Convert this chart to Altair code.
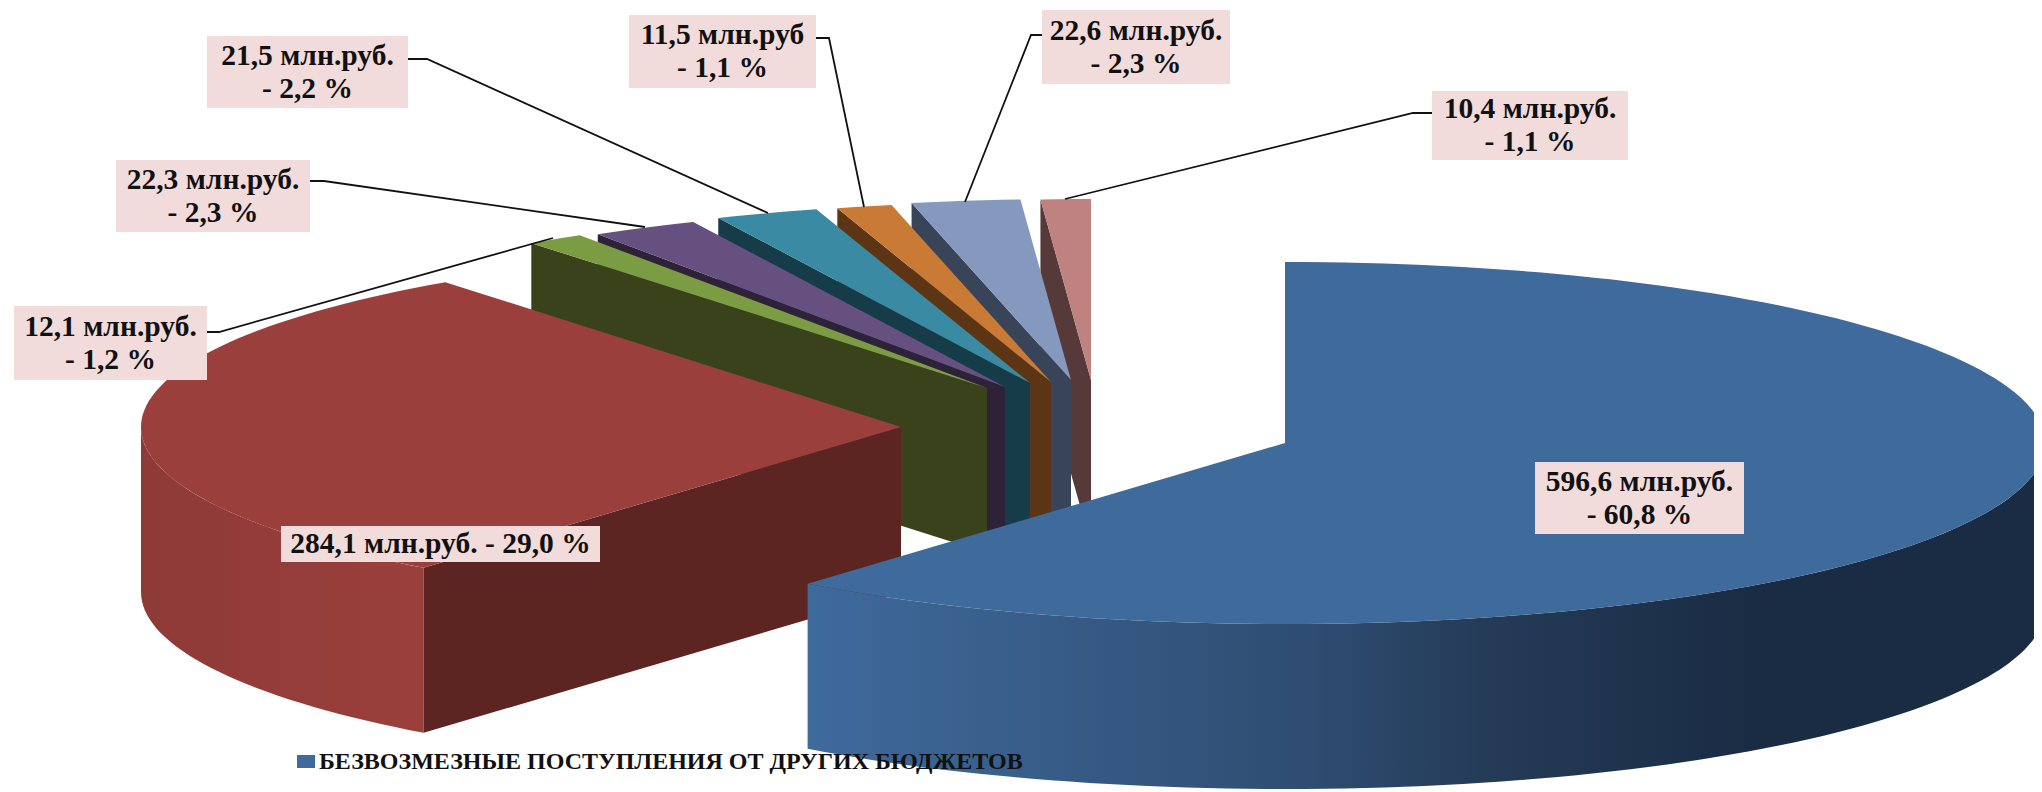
import math
import altair as alt
import pandas as pd

# ---- data (clockwise from 12 o'clock) ----
slice_names = ["blue", "red", "green", "purple", "teal", "orange", "steel", "pink"]
slice_values = [596.6, 284.1, 12.1, 22.3, 21.5, 11.5, 22.6, 10.4]
label_texts = [
    "596,6 млн.руб.\n- 60,8 %",
    "284,1 млн.руб. - 29,0 %",
    "12,1 млн.руб.\n- 1,2 %",
    "22,3 млн.руб.\n- 2,3 %",
    "21,5  млн.руб.\n- 2,2 %",
    "11,5 млн.руб\n- 1,1 %",
    "22,6 млн.руб.\n- 2,3 %",
    "10,4 млн.руб.\n- 1,1 %",
]
legend_text = "БЕЗВОЗМЕЗНЫЕ ПОСТУПЛЕНИЯ ОТ ДРУГИХ БЮДЖЕТОВ"

# ---- styles ----
top_colors = ["#3f6a9c", "#9a3f3c", "#7c9c44", "#65507f", "#3b8aa3", "#c97a35", "#8499bd", "#c08280"]
face_colors = ["#3f6a9c", "#5c2522", "#3a421c", "#2d2238", "#173c49", "#5b3514", "#3a4459", "#563a3a"]
BOX = "#f2dcdb"
FONT = "Liberation Serif"
LINE_H = 33

# ---- layout, in the picture's pixels ----
apex_x = [1285, 901, 987, 1005, 1030, 1051, 1071, 1091]
apex_y = [443, 427, 388, 387, 383, 382, 380, 380]
RX, RY, DEPTH = 760, 181, 165
box_left = [1535, 281, 14, 116, 207, 629, 1042, 1432]
box_right = [1744, 600, 207, 310, 408, 816, 1230, 1628]
box_top = [462, 526, 306, 160, 36, 15, 10, 91]
box_bottom = [534, 562, 380, 232, 108, 88, 84, 160]
leader_x = [None, None, [207, 219, 553], [310, 324, 645], [408, 427, 768], [816, 829, 864], [1042, 1031, 965], [1432, 1413, 1065]]
leader_y = [None, None, [332, 332, 238], [181, 181, 227], [59, 59, 213], [38, 38, 207], [35, 35, 202], [113, 113, 199]]

X = alt.X("x:Q", scale=alt.Scale(domain=[8, 2034]), axis=None)
Y = alt.Y("y:Q", scale=alt.Scale(domain=[792, 8]), axis=None)
X2 = alt.X2("x2:Q")
Y2 = alt.Y2("y2:Q")


def pt(i, t):
    r = math.radians(t)
    return apex_x[i] + RX * math.sin(r), apex_y[i] - RY * math.cos(r)


def arc(i, a, b):
    n = max(2, int(abs(b - a) / 1.5) + 1)
    return [pt(i, a + (b - a) * k / n) for k in range(n + 1)]


def poly(points, fill):
    df = pd.DataFrame({"x": [p[0] for p in points], "y": [p[1] for p in points], "ord": range(len(points))})
    return alt.Chart(df).mark_line(
        fill=fill, strokeOpacity=0, strokeWidth=0, clip=True
    ).encode(x=X, y=Y, order=alt.Order("ord:Q"))


total = sum(slice_values)
starts, ends = [], []
a = 0.0
for v in slice_values:
    starts.append(a)
    a += v / total * 360
    ends.append(a)

layers = []
blue_grad = alt.LinearGradient(gradient="linear", x1=0, x2=1, y1=0, y2=0, stops=[
    alt.GradientStop(color="#3f6a9c", offset=0),
    alt.GradientStop(color="#2f4d72", offset=0.4),
    alt.GradientStop(color="#243a56", offset=0.56),
    alt.GradientStop(color="#1a2c44", offset=0.76),
    alt.GradientStop(color="#1a2c44", offset=1),
])
red_grad = alt.LinearGradient(gradient="linear", x1=0, x2=1, y1=0, y2=0, stops=[
    alt.GradientStop(color="#8e3a37", offset=0),
    alt.GradientStop(color="#9a3f3c", offset=1),
])

# back to front: small slices right to left, then red, then blue
for i in range(7, 1, -1):
    ap = (apex_x[i], apex_y[i])
    o = pt(i, starts[i])
    layers.append(poly([ap, o, (o[0], o[1] + DEPTH), (ap[0], ap[1] + DEPTH)], face_colors[i]))
    layers.append(poly([ap] + arc(i, starts[i], ends[i]), top_colors[i]))

# red: rim (front part only), radial face, top
rim = arc(1, starts[1], 270)
layers.append(poly(rim + [(p[0], p[1] + DEPTH) for p in reversed(rim)], red_grad))
ap = (apex_x[1], apex_y[1])
o = pt(1, starts[1])
layers.append(poly([ap, o, (o[0], o[1] + DEPTH), (ap[0], ap[1] + DEPTH)], face_colors[1]))
layers.append(poly([ap] + arc(1, starts[1], ends[1]), top_colors[1]))

# blue: rim then top
rim = arc(0, 90, ends[0])
layers.append(poly(rim + [(p[0], p[1] + DEPTH) for p in reversed(rim)], blue_grad))
layers.append(poly([(apex_x[0], apex_y[0])] + arc(0, starts[0], ends[0]), top_colors[0]))

# leader lines
for i in range(8):
    if leader_x[i]:
        df = pd.DataFrame({"x": leader_x[i], "y": leader_y[i], "ord": range(len(leader_x[i]))})
        layers.append(alt.Chart(df).mark_line(color="#111111", strokeWidth=1.8).encode(x=X, y=Y, order=alt.Order("ord:Q")))

# label boxes and texts
boxes = pd.DataFrame({"x": box_left, "x2": box_right, "y": box_top, "y2": box_bottom})
layers.append(alt.Chart(boxes).mark_rect(color=BOX).encode(x=X, x2=X2, y=Y, y2=Y2))
texts = pd.DataFrame({
    "x": [(l + r) / 2 for l, r in zip(box_left, box_right)],
    "y": [(t + b) / 2 - (LINE_H / 2 if "\n" in s else 0)
          for t, b, s in zip(box_top, box_bottom, label_texts)],
    "t": label_texts,
})
layers.append(alt.Chart(texts).mark_text(
    font=FONT, fontWeight="bold", fontSize=29.5, lineBreak="\n", lineHeight=LINE_H,
    align="center", baseline="middle", color="#111111"
).encode(x=X, y=Y, text="t:N"))

# legend
layers.append(alt.Chart(pd.DataFrame({"x": [297], "x2": [315], "y": [755], "y2": [768]})).mark_rect(color=top_colors[0]).encode(x=X, x2=X2, y=Y, y2=Y2))
layers.append(alt.Chart(pd.DataFrame({"x": [319], "y": [762], "t": [legend_text]})).mark_text(
    font=FONT, fontWeight="bold", fontSize=24, align="left", baseline="middle", color="#111111"
).encode(x=X, y=Y, text="t:N"))

chart = alt.layer(*layers).properties(width=2026, height=784, padding=0, background="white").configure_view(stroke=None)
chart.save("out.html", embed_options={"renderer": "svg", "actions": False})
